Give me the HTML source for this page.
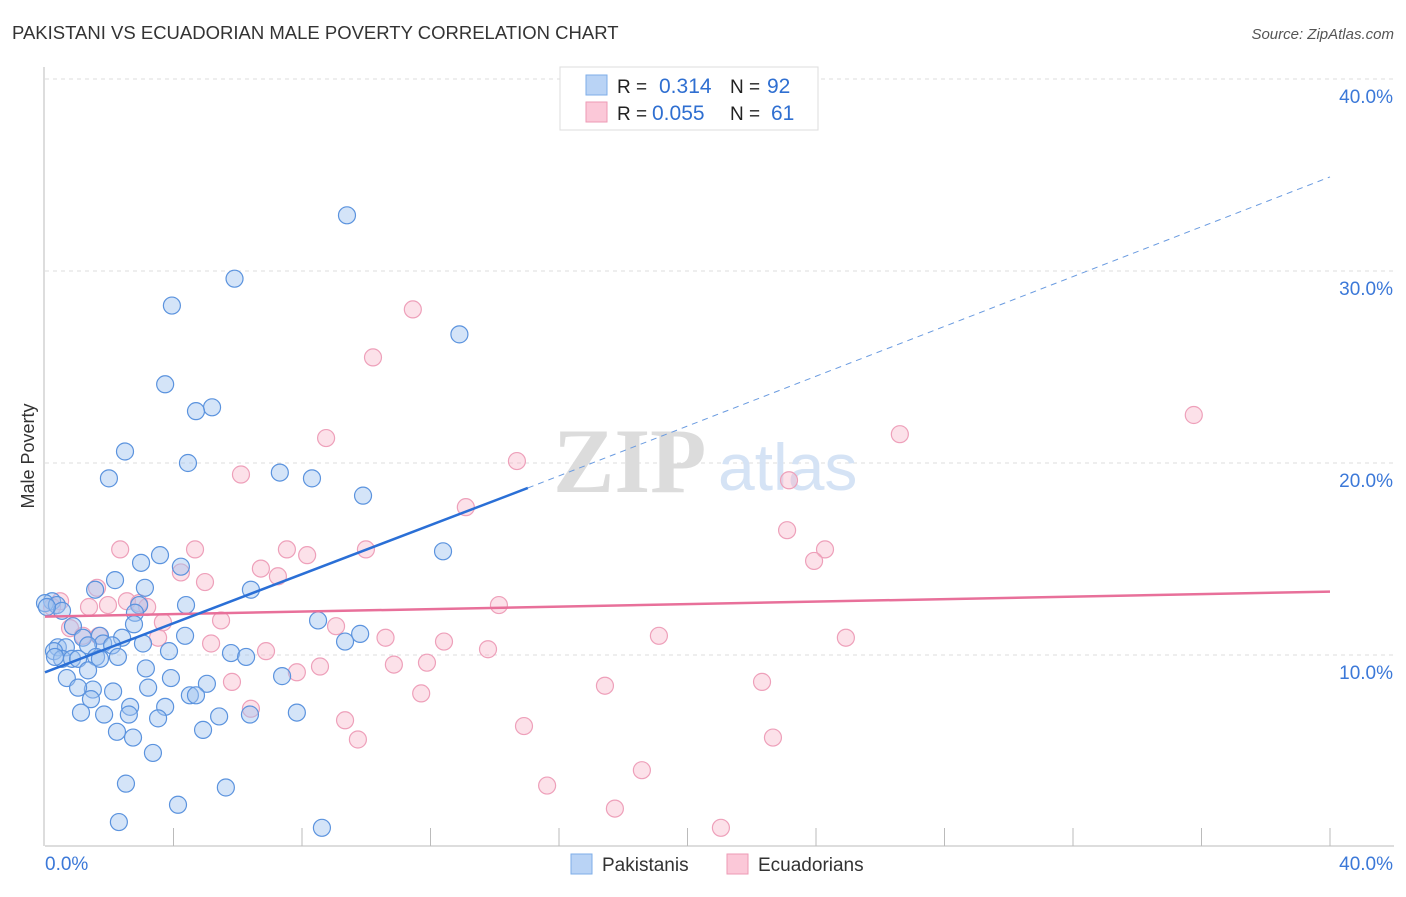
<!DOCTYPE html>
<html><head><meta charset="utf-8"><style>
body{margin:0;background:#fff;font-family:"Liberation Sans",sans-serif;}
svg text{font-family:"Liberation Sans",sans-serif;}
</style></head><body>
<svg id="chart" width="1406" height="892" xmlns="http://www.w3.org/2000/svg">
<text x="12" y="39" font-size="18.5" fill="#333">PAKISTANI VS ECUADORIAN MALE POVERTY CORRELATION CHART</text>
<text x="1394" y="39" font-size="15" fill="#555" text-anchor="end" font-style="italic">Source: ZipAtlas.com</text>
<text transform="translate(34,456) rotate(-90)" font-size="18" fill="#333" text-anchor="middle">Male Poverty</text>
<g id="grid"></g>
<text x="553" y="492" font-size="92" fill="#dcdcdc" style="font-family:'Liberation Serif',serif;font-weight:bold">ZIP</text>
<text x="718" y="490" font-size="66" fill="#d5e3f5">atlas</text>
<g id="axes"></g>
<g id="pinkpts"></g>
<g id="bluepts"></g>
<g id="lines"></g>
<g>
<rect x="560" y="67" width="258" height="63" fill="#fff" stroke="#ddd"/>
<rect x="586" y="75" width="21" height="20" fill="#b9d3f5" stroke="#7eaee8"/>
<rect x="586" y="102" width="21" height="20" fill="#fbc8d8" stroke="#ee9ab5"/>
<text x="617" y="93" font-size="19" fill="#222">R =</text>
<text x="659" y="93" font-size="21" fill="#2f6fd1">0.314</text>
<text x="730" y="93" font-size="19" fill="#222">N =</text>
<text x="767" y="93" font-size="21" fill="#2f6fd1">92</text>
<text x="617" y="120" font-size="19" fill="#222">R =</text>
<text x="652" y="120" font-size="21" fill="#2f6fd1">0.055</text>
<text x="730" y="120" font-size="19" fill="#222">N =</text>
<text x="771" y="120" font-size="21" fill="#2f6fd1">61</text>
</g>
<g>
<rect x="571" y="854" width="21" height="20" fill="#b9d3f5" stroke="#7eaee8"/>
<text x="602" y="871" font-size="19" fill="#333">Pakistanis</text>
<rect x="727" y="854" width="21" height="20" fill="#fbc8d8" stroke="#ee9ab5"/>
<text x="758" y="871" font-size="19" fill="#333">Ecuadorians</text>
</g>
</svg>
<script>
const yTicks=[10,20,30,40];
const yTickLabels=["10.0%","20.0%","30.0%","40.0%"];
const xTicks=[0,4,8,12,16,20,24,28,32,36,40];
const blueX=[9.4,5.9,3.95,12.9,3.74,5.2,4.7,2.49,4.45,1.99,7.31,8.31,9.9,12.39,3.58,2.99,4.23,2.18,3.11,6.41,1.56,0.22,0,0.37,2.93,4.39,2.8,8.5,2.77,0.87,1.71,2.4,4.36,1.18,9.81,9.34,0.4,0.65,1.81,3.05,1.34,2.09,3.86,0.28,5.79,6.26,1.59,2.27,0.53,0.84,1.03,1.71,3.14,0.68,1.49,1.03,3.21,7.38,5.04,2.12,3.92,1.43,4.51,4.7,7.84,1.12,2.65,3.74,1.84,2.61,5.42,3.52,6.38,2.24,4.92,2.74,3.36,2.52,5.63,4.14,2.3,8.62,0.53,0.06,0.31,1.34];
const blueY=[32.9,29.6,28.2,26.7,24.1,22.9,22.7,20.6,20.0,19.2,19.5,19.2,18.3,15.4,15.2,14.8,14.6,13.9,13.5,13.4,13.4,12.8,12.7,12.6,12.6,12.6,12.2,11.8,11.6,11.5,11.0,10.9,11.0,10.9,11.1,10.7,10.4,10.4,10.6,10.6,10.5,10.5,10.2,10.2,10.1,9.9,9.9,9.9,9.8,9.8,9.8,9.8,9.3,8.8,8.2,8.3,8.3,8.9,8.5,8.1,8.8,7.7,7.9,7.9,7.0,7.0,7.3,7.3,6.9,6.9,6.8,6.7,6.9,6.0,6.1,5.7,4.9,3.3,3.1,2.2,1.3,1.0,12.3,12.5,9.9,9.2];
const pinkX=[11.45,10.21,8.75,35.76,26.61,14.69,6.1,23.16,13.1,23.1,2.34,4.67,24.28,23.94,9.99,7.53,8.16,6.72,4.23,1.62,4.98,7.25,0.47,1.37,1.96,2.55,2.93,3.18,14.13,5.48,9.06,3.67,0.22,0.78,1.68,3.52,5.17,6.88,8.56,10.6,12.42,13.79,19.11,24.93,10.86,11.89,7.84,5.82,17.43,22.32,11.71,6.41,9.34,14.91,9.74,22.66,18.58,15.63,17.74,21.04,1.18];
const pinkY=[28.0,25.5,21.3,22.5,21.5,20.1,19.4,19.1,17.7,16.5,15.5,15.5,15.5,14.9,15.5,15.5,15.2,14.5,14.3,13.5,13.8,14.1,12.8,12.5,12.6,12.8,12.7,12.5,12.6,11.8,11.5,11.7,12.5,11.4,11.0,10.9,10.6,10.2,9.4,10.9,10.7,10.3,11.0,10.9,9.5,9.6,9.1,8.6,8.4,8.6,8.0,7.2,6.6,6.3,5.6,5.7,4.0,3.2,2.0,1.0,11.0];
const blueTrend=[[0,9.1],[15.03,18.7]],blueDash=[[15.03,18.7],[40,34.9]];
const pinkTrend=[[0,12.0],[40,13.3]];
const X0=45,X1=1330,Y0=847,Y40=79;
const sx=v=>X0+(X1-X0)*v/40, sy=v=>Y0-(Y0-Y40)*v/40;
const NS="http://www.w3.org/2000/svg";
function mk(tag,parent,attrs){const e=document.createElementNS(NS,tag);for(const k in attrs)e.setAttribute(k,attrs[k]);parent.appendChild(e);return e;}
const grid=document.getElementById('grid'),axes=document.getElementById('axes');
yTicks.forEach((t,i)=>{
 const l=mk('line',grid,{x1:45,x2:1394,y1:sy(t),y2:sy(t),stroke:'#ddd','stroke-dasharray':'4,4'});
 
 
 const tx=mk('text',axes,{x:1393,y:sy(t)+24,'font-size':19,fill:'#3b78d8','text-anchor':'end'});
 tx.textContent=yTickLabels[i];
 
 
});
const ax=mk('line',axes,{x1:45,x2:1394,y1:846,y2:846,stroke:'#bbb'});


const ay=mk('line',axes,{x1:44,x2:44,y1:67,y2:846,stroke:'#bbb'});


xTicks.forEach(t=>{if(t===0)return;
 const l=mk('line',axes,{x1:sx(t),x2:sx(t),y1:828,y2:846,stroke:'#bbb'});
 
 
});
const xl0=mk('text',axes,{x:45,y:870,'font-size':19,fill:'#3b78d8'});xl0.textContent='0.0%';


const xl1=mk('text',axes,{x:1393,y:870,'font-size':19,fill:'#3b78d8','text-anchor':'end'});xl1.textContent='40.0%';


function pts(gid,xs,ys,fill,stroke,name){const g=document.getElementById(gid);
 xs.forEach((x,i)=>{const c=mk('circle',g,{cx:sx(x),cy:sy(ys[i]),r:8.5,fill:fill,stroke:stroke,'stroke-width':1.2});
 
 });}
pts('pinkpts',pinkX,pinkY,'rgba(248,180,200,0.4)','#eea0ba','ecuadorian-point');
pts('bluepts',blueX,blueY,'rgba(160,196,240,0.45)','#5b93de','pakistani-point');
const lg=document.getElementById('lines');
function ln(p,stroke,w,dash,name){const l=mk('line',lg,{x1:sx(p[0][0]),y1:sy(p[0][1]),x2:sx(p[1][0]),y2:sy(p[1][1]),stroke:stroke,'stroke-width':w});
 if(dash)l.setAttribute('stroke-dasharray',dash);
 
 }
ln(pinkTrend,'#e8709a',2.5,null,'ecuadorian-trend-line');
ln(blueTrend,'#2a6fd6',2.5,null,'pakistani-trend-line');
ln(blueDash,'#6a9be0',1,'6,5','pakistani-trend-extension');
</script>
</body></html>
